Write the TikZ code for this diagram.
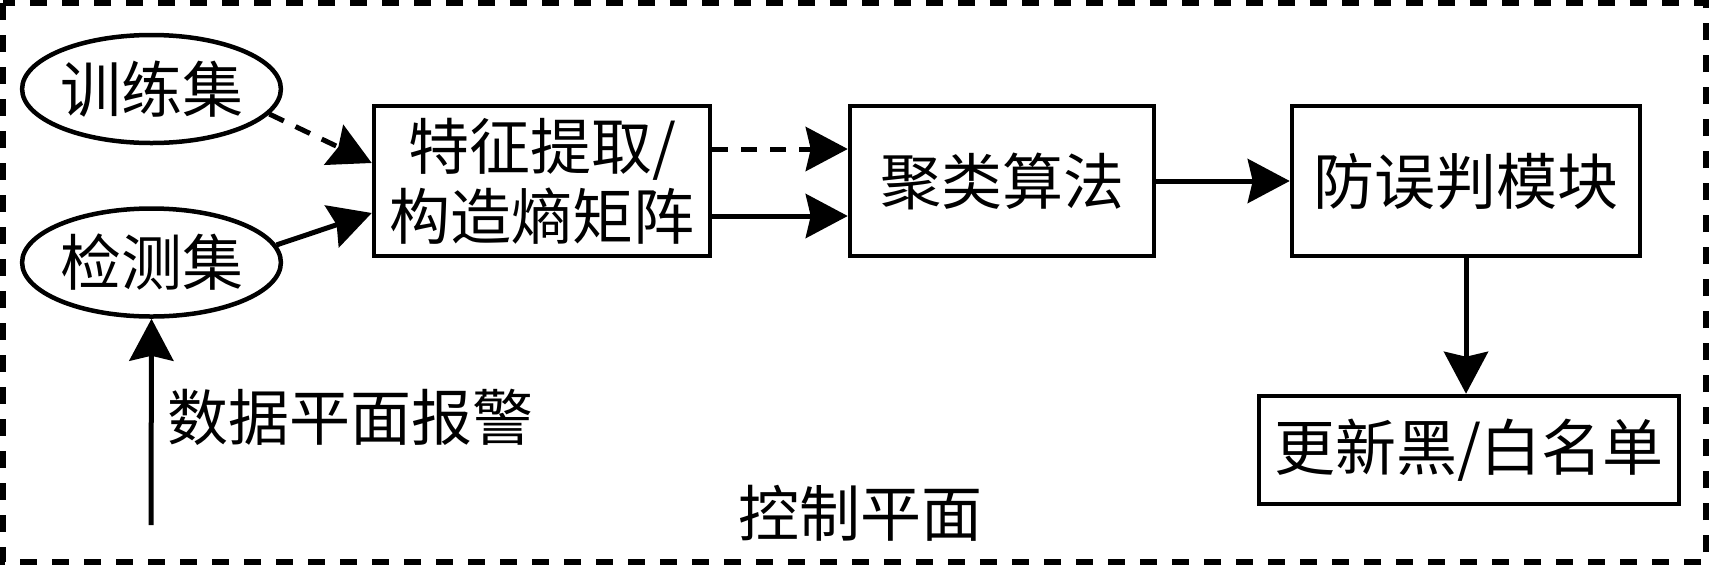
\documentclass[tikz,border=0pt]{standalone}
\usepackage{fontspec}
\newfontfamily\cjk{Noto Sans CJK SC}
\usetikzlibrary{arrows.meta,shapes.geometric,calc}
\begin{document}
\begin{tikzpicture}[x=1pt,y=-1pt,
  every node/.style={font=\cjk\fontsize{61}{70}\selectfont, inner sep=0pt},
  boxnode/.style={draw, line width=4.5pt, rectangle, align=center},
  ellnode/.style={draw, line width=4.5pt, ellipse, minimum width=237pt, minimum height=108pt},
  arr/.style={line width=5pt, -{Stealth[inset=5pt,length=42pt,width=44pt]}},
  dsh/.style={dash pattern=on 16pt off 13pt}
]
\useasboundingbox (0,0) rectangle (1710,566);
% outer dashed frame
\draw[line width=5.5pt, dash pattern=on 17pt off 15pt] (3,3) rectangle (1706,562);

\node[ellnode] (e1) at (151.5,89) {训练集};
\node[ellnode] (e2) at (151.5,262.5) {检测集};

\node[boxnode, minimum width=336pt, minimum height=150pt] (b1) at (542,181) {特征提取/\\构造熵矩阵};
\node[boxnode, minimum width=304pt, minimum height=150pt] (b2) at (1002,181) {聚类算法};
\node[boxnode, minimum width=348pt, minimum height=150pt] (b3) at (1466,181) {防误判模块};
\node[boxnode, minimum width=420pt, minimum height=108pt] (b4) at (1469,450) {更新黑/白名单};

\node[anchor=west] (lbl) at (167,417) {数据平面报警};
\node (ctl) at (860,513) {控制平面};

\coordinate (src) at (151,525);

\draw[arr, dsh] (e1.-12) -- ([yshift=18pt]b1.west);
\draw[arr] (e2.8) -- ([yshift=-32pt]b1.west);
\draw[arr, dsh] ([yshift=32pt]b1.east) -- ([yshift=32pt]b2.west);
\draw[arr] ([yshift=-35pt]b1.east) -- ([yshift=-35pt]b2.west);
\draw[arr] (b2.east) -- (b3.west);
\draw[arr] (b3.south) -- (b3.south |- b4.north);
\draw[arr] (src) -- (e2.south);
\end{tikzpicture}
\end{document}
